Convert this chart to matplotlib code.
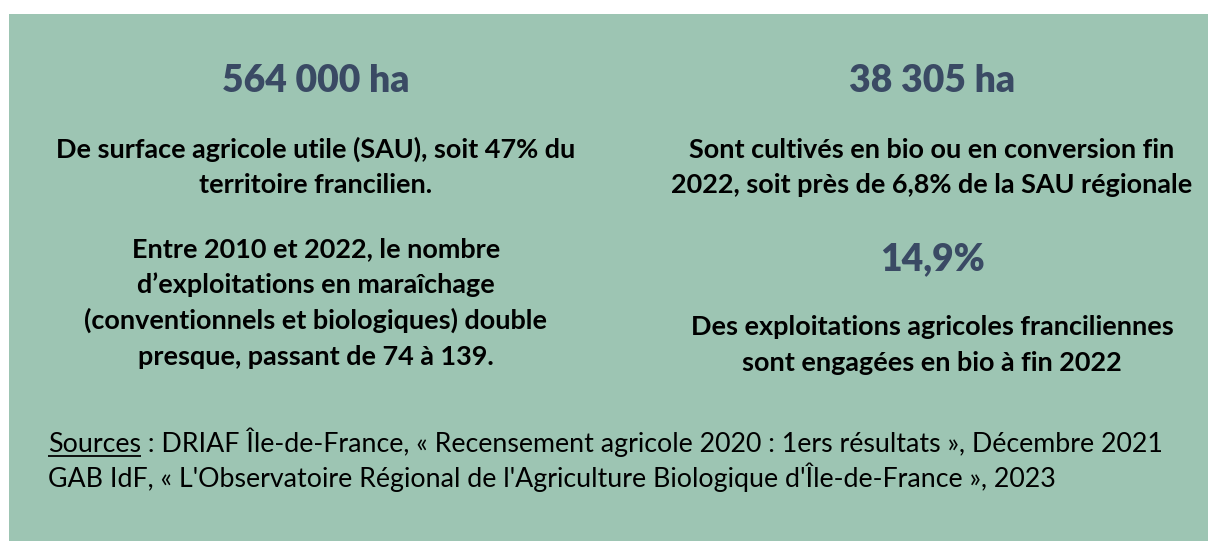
import matplotlib
matplotlib.use('Agg')
import matplotlib.pyplot as plt
from matplotlib.patches import Rectangle

# ---- content ----
headline_left = "564 000 ha"
headline_right = "38 305 ha"
headline_right2 = "14,9%"
left_block1 = ["De surface agricole utile (SAU), soit 47% du",
               "territoire francilien."]
left_block2 = ["Entre 2010 et 2022, le nombre",
               "d\u2019exploitations en maraîchage",
               "(conventionnels et biologiques) double",
               "presque, passant de 74 à 139."]
right_block1 = ["Sont cultivés en bio ou en conversion fin",
                "2022, soit près de 6,8% de la SAU régionale"]
right_block2 = ["Des exploitations agricoles franciliennes",
                "sont engagées en bio à fin 2022"]
source_label = "Sources"
source_line1 = " : DRIAF Île-de-France, « Recensement agricole 2020 : 1ers résultats », Décembre 2021"
source_line2 = "GAB IdF, « L'Observatoire Régional de l'Agriculture Biologique d'Île-de-France », 2023"

# ---- style ----
BG = "#9dc5b3"
TITLE = "#3a4a64"
FAM = ["Lato", "DejaVu Sans"]
TW = 800

W, H = 1208, 541
fig = plt.figure(figsize=(W / 100, H / 100), dpi=100)
fig.patch.set_facecolor("white")
ax = fig.add_axes([0, 0, 1, 1])
ax.set_xlim(0, W)
ax.set_ylim(H, 0)
ax.axis("off")
ax.add_patch(Rectangle((9, 14), W - 9, H - 14, facecolor=BG, edgecolor="none"))

renderer = fig.canvas.get_renderer()


def width_px(t):
    return t.get_window_extent(renderer).width


def fit(text, target, weight):
    t = ax.text(0, 0, text, fontsize=20, fontweight=weight, family=FAM)
    w = width_px(t)
    t.remove()
    return 20 * target / w


title_fs = fit(headline_left, 187, TW)
body_fs = fit(left_block1[0], 521, "bold")
src_fs = fit(source_label + source_line1, 1119, "normal")

LX, RX = 316, 932

for x, y, s in [(LX, 92, headline_left), (RX, 92, headline_right), (RX, 270, headline_right2)]:
    ax.text(x, y, s, ha="center", va="baseline", fontsize=title_fs,
            fontweight=TW, color=TITLE, family=FAM)


def block(x, y0, lines, step=36):
    for i, s in enumerate(lines):
        ax.text(x, y0 + i * step, s, ha="center", va="baseline", fontsize=body_fs,
                fontweight="bold", color="black", family=FAM)


block(LX, 158, left_block1, 35)
block(LX, 257, left_block2, 36)
block(RX, 158, right_block1, 35)
block(RX, 335, right_block2, 36)

# sources
t0 = ax.text(48, 452, source_label, ha="left", va="baseline", fontsize=src_fs,
             color="black", family=FAM)
bb = t0.get_window_extent(renderer)
inv = ax.transData.inverted()
x0d, _ = inv.transform((bb.x0, bb.y0))
x1d, _ = inv.transform((bb.x1, bb.y0))
ax.plot([x0d, x1d], [455.5, 455.5], color="black", lw=1.3, solid_capstyle="butt")
ax.text(x1d, 452, source_line1, ha="left", va="baseline", fontsize=src_fs,
        color="black", family=FAM)
ax.text(48, 487, source_line2, ha="left", va="baseline", fontsize=src_fs,
        color="black", family=FAM)

fig.savefig("out.png", dpi=100, facecolor="white")
